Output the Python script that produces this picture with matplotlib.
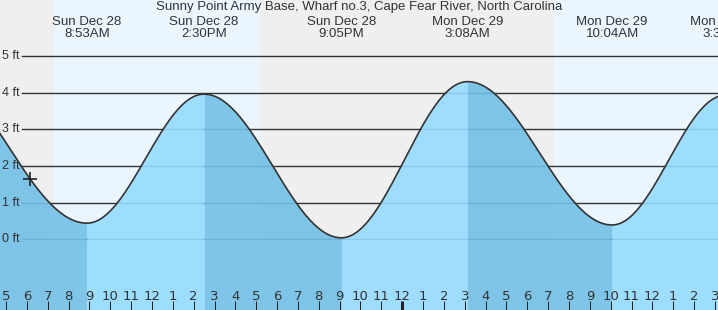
import numpy as np
import matplotlib
matplotlib.use('Agg')
from matplotlib import pyplot as plt
from matplotlib import transforms

# tide extremes, hours from Sun Dec 28 00:00
tide_times = [1.2, 8.883, 14.5, 21.083, 27.133, 34.067, 39.5]
tide_heights = [4.75, 0.44, 3.96, 0.04, 4.30, 0.39, 3.93]
tide_labels = ['', 'Sun Dec 28\n8:53AM', 'Sun Dec 28\n2:30PM', 'Sun Dec 28\n9:05PM',
               'Mon Dec 29\n3:08AM', 'Mon Dec 29\n10:04AM', 'Mon Dec 29\n3:30PM']

# sunrise / sunset
sun_times = [7.30, 17.18, 31.28]
now_time = 6.15
hours = list(range(5, 40))
levels = [0, 1, 2, 3, 4, 5]

title = 'Sunny Point Army Base, Wharf no.3, Cape Fear River, North Carolina'

W, H = 718, 310
fig = plt.figure(figsize=(W / 100, H / 100), dpi=100)
ax = fig.add_axes([0, 0, 1, 1])
x0, x1 = 4.712, 39.146
y0, y1 = -1.929, 6.527
ax.set_xlim(x0, x1)
ax.set_ylim(y0, y1)
ax.axis('off')

night = '#efefef'
day = '#ebf5fe'
ax.axvspan(x0, sun_times[0], color=night, lw=0, zorder=0)
ax.axvspan(sun_times[0], sun_times[1], color=day, lw=0, zorder=0)
ax.axvspan(sun_times[1], sun_times[2], color=night, lw=0, zorder=0)
ax.axvspan(sun_times[2], x1, color=day, lw=0, zorder=0)

# gridlines + labels
for lv in levels:
    ax.axhline(lv, xmin=22 / W, xmax=1, color='#333333', lw=1.0, zorder=1)
    ax.text(x0 + 20 / W * (x1 - x0), lv, '%d ft' % lv, ha='right', va='center',
            fontsize=9, color='#333333', family='Liberation Sans', zorder=5)


def tide_at(t):
    for i in range(len(tide_times) - 1):
        ta, tb = tide_times[i], tide_times[i + 1]
        if ta <= t <= tb:
            ha, hb = tide_heights[i], tide_heights[i + 1]
            f = (1 - np.cos(np.pi * (t - ta) / (tb - ta))) / 2
            return ha + (hb - ha) * f
    return np.nan


all_t = []
all_h = []
for i in range(len(tide_times) - 1):
    ta, tb = tide_times[i], tide_times[i + 1]
    ts = np.linspace(ta, tb, 200)
    hs = np.array([tide_at(t) for t in ts])
    rising = tide_heights[i + 1] > tide_heights[i]
    col = '#95dbff' if rising else '#72c0e6'
    ax.fill_between(ts, y0, hs, color=col, alpha=0.9, lw=0, zorder=2)
    all_t.extend(ts)
    all_h.extend(hs)
ax.plot(all_t, all_h, color='#333333', lw=1.2, zorder=3)

ax.plot([now_time], [tide_at(now_time)], marker='+', color='#222222', ms=10, mew=1.2, zorder=4)

# labels at top (figure pixel y)
tr = transforms.blended_transform_factory(ax.transData, fig.transFigure)
for t, lab in zip(tide_times, tide_labels):
    if lab:
        ax.text(t, 1 - 28 / H, lab, transform=tr, ha='center', va='center',
                fontsize=9.5, color='#333333', family='Liberation Sans',
                linespacing=1.05, zorder=5, clip_on=False)
fig.text(0.5, 1 - 7 / H, title, ha='center', va='center', fontsize=9.5,
         color='#333333', family='Liberation Sans')

# hour ticks
for h in hours:
    lab = h % 12
    if lab == 0:
        lab = 12
    ax.text(h, 1 - 296 / H, str(lab), transform=tr, ha='center', va='center',
            fontsize=9.5, color='#333333', family='DejaVu Sans', zorder=5)
    lw = 3 if h == 24 else 1
    ax.plot([h, h], [1 - 301 / H, 1.0 - 310 / H], transform=tr, color='#222222',
            lw=lw * 0.72, solid_capstyle='butt', zorder=5, clip_on=False)

fig.savefig('out.png', dpi=100)
plt.close(fig)
